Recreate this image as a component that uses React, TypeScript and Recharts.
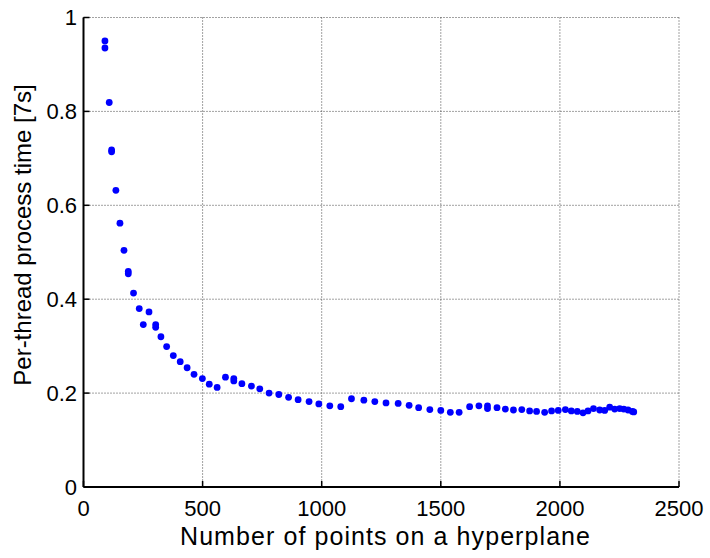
import React from 'react';
import {
  ScatterChart,
  Scatter,
  XAxis,
  YAxis,
  CartesianGrid,
  Label,
} from 'recharts';

const pointsX: number[] = [
  90, 90, 108, 118, 118, 136, 153, 170, 188, 188, 210, 234, 251, 275, 303, 303,
  325, 349, 377, 406, 435, 464, 499, 528, 561, 596, 631, 631, 665, 705, 740,
  779, 820, 861, 901, 947, 988, 1034, 1080, 1125, 1177, 1223, 1270, 1321, 1367,
  1407, 1454, 1500, 1540, 1577, 1621, 1660, 1696, 1696, 1736, 1771, 1805, 1840,
  1873, 1902, 1936, 1965, 1993, 2023, 2048, 2073, 2097, 2118, 2141, 2167, 2188,
  2209, 2230, 2251, 2268, 2286, 2304, 2310,
];

const pointsY: number[] = [
  0.95, 0.935, 0.819, 0.718, 0.714, 0.632, 0.562, 0.504, 0.459, 0.454, 0.413,
  0.38, 0.346, 0.373, 0.346, 0.34, 0.32, 0.299, 0.28, 0.267, 0.254, 0.24, 0.231,
  0.219, 0.212, 0.234, 0.231, 0.226, 0.22, 0.215, 0.209, 0.2, 0.197, 0.191,
  0.186, 0.182, 0.177, 0.173, 0.171, 0.188, 0.185, 0.182, 0.179, 0.178, 0.174,
  0.169, 0.165, 0.163, 0.159, 0.159, 0.171, 0.173, 0.173, 0.167, 0.169, 0.166,
  0.164, 0.165, 0.162, 0.161, 0.159, 0.162, 0.163, 0.165, 0.162, 0.161, 0.158,
  0.162, 0.167, 0.164, 0.163, 0.17, 0.166, 0.167, 0.166, 0.164, 0.161, 0.16,
];

const xTicks: number[] = [0, 500, 1000, 1500, 2000, 2500];
const yTicks: number[] = [0, 0.2, 0.4, 0.6, 0.8, 1];

const xTitle = 'Number of points on a hyperplane';
const yTitle = 'Per-thread process time [7s]';

const data = pointsX.map((x, i) => ({ x, y: pointsY[i] }));

const FONT = "'Liberation Sans', Arial, Helvetica, sans-serif";

const Dot = (props: any) => (
  <circle cx={props.cx} cy={props.cy} r={3.4} fill="#0000ff" />
);

export default function App() {
  return (
    <div style={{ position: 'absolute', left: 0, top: 0, width: 710, height: 558, background: '#fff' }}>
      <ScatterChart
        width={710}
        height={558}
        margin={{ top: 17.5, right: 31, left: 0, bottom: 0 }}
        style={{ fontFamily: FONT }}
      >
        <CartesianGrid stroke="#444" strokeDasharray="1 2" strokeWidth={1} />
        <XAxis
          dataKey="x"
          type="number"
          domain={[0, 2500]}
          ticks={xTicks}
          allowDataOverflow
          height={71}
          axisLine={{ stroke: '#000', strokeWidth: 2 }}
          tickLine={{ stroke: '#000', strokeWidth: 1.5 }}
          tickSize={-6}
          tickMargin={19}
          tick={{ fill: '#000', fontSize: 22, fontFamily: FONT }}
        >
          <Label
            content={() => (
              <text
                x={385}
                y={545}
                textAnchor="middle"
                fontSize={25}
                fontFamily={FONT}
                fill="#000"
                textLength={410}
                lengthAdjust="spacing"
              >
                {xTitle}
              </text>
            )}
          />
        </XAxis>
        <XAxis
          xAxisId="top"
          orientation="top"
          type="number"
          domain={[0, 2500]}
          ticks={xTicks}
          allowDataOverflow
          height={0}
          axisLine={{ stroke: '#000', strokeWidth: 2 }}
          tickLine={{ stroke: '#000', strokeWidth: 1.5 }}
          tickSize={-6}
          tick={false}
        />
        <YAxis
          dataKey="y"
          type="number"
          domain={[0, 1]}
          ticks={yTicks}
          allowDataOverflow
          width={83.5}
          axisLine={{ stroke: '#000', strokeWidth: 2 }}
          tickLine={{ stroke: '#000', strokeWidth: 1.5 }}
          tickSize={-6}
          tickMargin={12.5}
          tick={{ fill: '#000', fontSize: 22, fontFamily: FONT }}
        >
          <Label
            content={() => (
              <text
                x={31}
                y={235}
                transform="rotate(-90 31 235)"
                textAnchor="middle"
                fontSize={24}
                fontFamily={FONT}
                fill="#000"
              >
                {yTitle}
              </text>
            )}
          />
        </YAxis>
        <YAxis
          yAxisId="right"
          orientation="right"
          type="number"
          domain={[0, 1]}
          ticks={yTicks}
          allowDataOverflow
          width={0}
          axisLine={{ stroke: '#000', strokeWidth: 2 }}
          tickLine={{ stroke: '#000', strokeWidth: 1.5 }}
          tickSize={-6}
          tick={false}
        />
        <Scatter data={data} shape={Dot} isAnimationActive={false} />
      </ScatterChart>
    </div>
  );
}
